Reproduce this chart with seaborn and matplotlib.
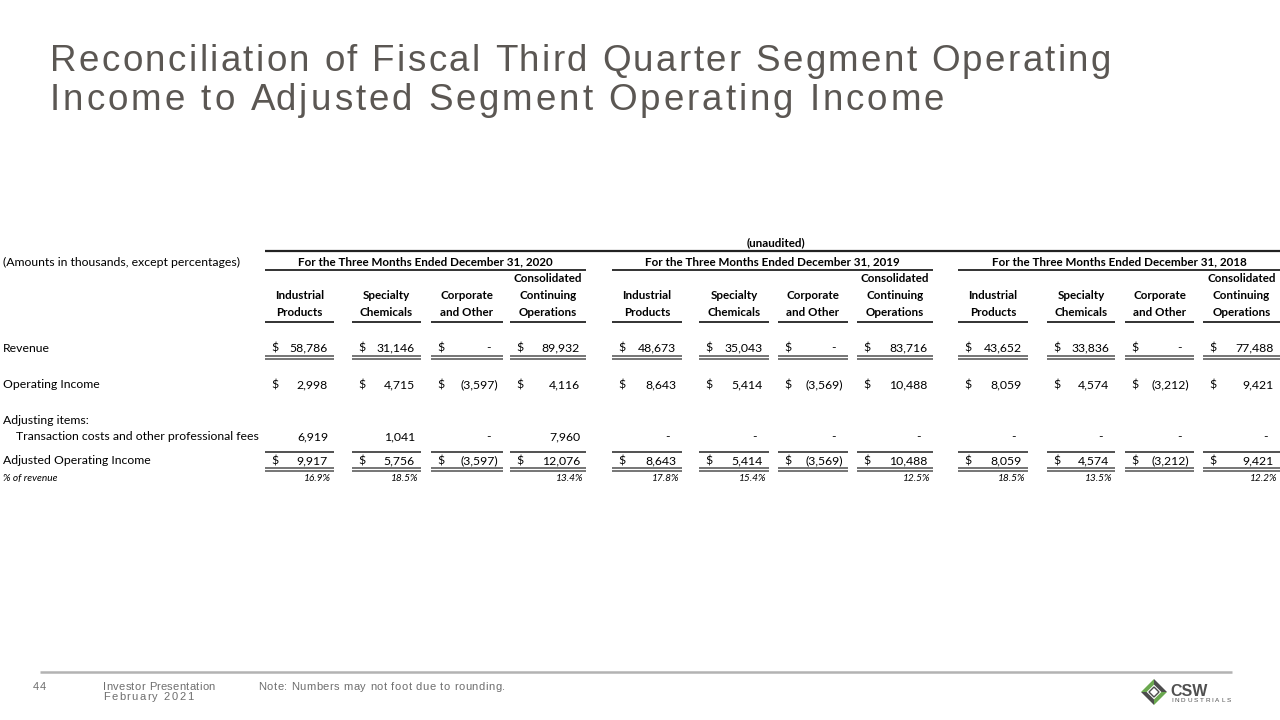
import matplotlib
matplotlib.use("Agg")
import matplotlib.pyplot as plt
from matplotlib.patches import Polygon
from matplotlib.font_manager import FontProperties
import seaborn as sns

sns.set_theme(style="white")
plt.rcParams['font.family'] = ['Lato', 'DejaVu Sans']

# ---------------- data ----------------
title_lines = ["Reconciliation of Fiscal Third Quarter Segment Operating",
               "Income to Adjusted Segment Operating Income"]
group_titles = ["For the Three Months Ended December 31, 2020",
                "For the Three Months Ended December 31, 2019",
                "For the Three Months Ended December 31, 2018"]
col_headers = [["", "Industrial", "Products"],
               ["", "Specialty", "Chemicals"],
               ["", "Corporate", "and Other"],
               ["Consolidated", "Continuing", "Operations"]]
revenue = [[58786, 31146, 0, 89932],
           [48673, 35043, 0, 83716],
           [43652, 33836, 0, 77488]]
operating_income = [[2998, 4715, -3597, 4116],
                    [8643, 5414, -3569, 10488],
                    [8059, 4574, -3212, 9421]]
transaction_costs = [[6919, 1041, 0, 7960],
                     [0, 0, 0, 0],
                     [0, 0, 0, 0]]
adjusted_income = [[9917, 5756, -3597, 12076],
                   [8643, 5414, -3569, 10488],
                   [8059, 4574, -3212, 9421]]
pct_revenue = [[16.9, 18.5, None, 13.4],
               [17.8, 15.4, None, 12.5],
               [18.5, 13.5, None, 12.2]]
row_labels = ["Revenue", "Operating Income", "Adjusting items:",
              "Transaction costs and other professional fees",
              "Adjusted Operating Income", "% of revenue"]
footer_page = "44"
footer_pres = ["Investor Presentation", "February 2021"]
footer_note = "Note: Numbers may not foot due to rounding."

# ---------------- layout (pixels) ----------------
col_spans = [[(265, 334), (352, 421), (431, 503), (510, 586)],
             [(612, 682), (699, 769), (778, 848), (857, 933)],
             [(958, 1028), (1047, 1115), (1125, 1194), (1203, 1280)]]
group_spans = [(265, 586), (612, 933), (958, 1280)]

fig = plt.figure(figsize=(12.8, 7.2), dpi=100)
ax = fig.add_axes([0, 0, 1, 1])
ax.set_xlim(0, 1280)
ax.set_ylim(720, 0)
ax.axis("off")
sns.despine(ax=ax, left=True, bottom=True)
renderer = fig.canvas.get_renderer()

TXT = "#000000"
FS = 8.8
FSB = 8.4
FF = ["Liberation Sans", "DejaVu Sans"]


def spaced_text(x, y, s, size, color, family=FF, weight="normal",
                spacing=None, target=None, va="baseline"):
    fp = FontProperties(family=family, size=size, weight=weight)

    def w(t):
        return renderer.get_text_width_height_descent(t, fp, ismath=False)[0]
    wl = w("l")
    pos = [0.0] + [w(s[:i] + "l") - wl for i in range(1, len(s))]
    if target is not None:
        spacing = (target - w(s)) / (len(s) - 1)
    for i, ch in enumerate(s):
        if ch != " ":
            ax.text(x + pos[i] + i * spacing, y, ch, fontproperties=fp,
                    color=color, ha="left", va=va)
    return spacing


# title
spaced_text(50, 71, title_lines[0], 26.5, "#5b5753", target=1061)
spaced_text(50, 110, title_lines[1], 26.5, "#5b5753", target=894)

# header area
ax.text(776, 243, "(unaudited)", fontsize=FSB, fontweight="bold", color=TXT,
        ha="center", va="center")
ax.hlines(251, 265, 1280, color="#222222", lw=1.6)
ax.text(3, 262, "(Amounts in thousands, except percentages)", fontsize=FS,
        color=TXT, ha="left", va="center")
for g, (a, b) in enumerate(group_spans):
    ax.text((a + b) / 2, 262, group_titles[g], fontsize=FSB, fontweight="bold",
            color=TXT, ha="center", va="center")
    ax.hlines(269.5, a, b, color="#222222", lw=1.3)
    for c, (l, r) in enumerate(col_spans[g]):
        for k, y in enumerate([278, 295.5, 312.5]):
            if col_headers[c][k]:
                ax.text((l + r) / 2, y, col_headers[c][k], fontsize=FSB,
                        fontweight="bold", color=TXT, ha="center", va="center")
        ax.hlines(322, l, r, color="#222222", lw=1.3)


def fmt(v):
    if v == 0:
        return "-"
    if v < 0:
        return "({:,})".format(-v)
    return "{:,}".format(v)


def put_row(values, y, dollar):
    for g in range(3):
        for c, (l, r) in enumerate(col_spans[g]):
            v = values[g][c]
            if dollar:
                ax.text(l + 6, y, "$", fontsize=FS, color=TXT, ha="left", va="center")
            if v == 0:
                ax.text(r - 12, y, "-", fontsize=FS, color=TXT, ha="right", va="center")
            elif v < 0:
                ax.text(r - 5, y, fmt(v), fontsize=FS, color=TXT, ha="right", va="center")
            else:
                ax.text(r - 6, y, fmt(v), fontsize=FS, color=TXT, ha="right", va="center")


def double_line(y):
    for g in range(3):
        for (l, r) in col_spans[g]:
            ax.hlines(y - 1.2, l, r, color="#505050", lw=1.1)
            ax.hlines(y + 1.2, l, r, color="#505050", lw=1.1)


# rows
ax.text(3, 348, row_labels[0], fontsize=FS, color=TXT, ha="left", va="center")
put_row(revenue, 348, True)
double_line(357.5)

ax.text(3, 385, row_labels[1], fontsize=FS, color=TXT, ha="left", va="center")
put_row(operating_income, 385, True)

ax.text(3, 420, row_labels[2], fontsize=FS, color=TXT, ha="left", va="center")
ax.text(16, 436.5, row_labels[3], fontsize=FS, color=TXT, ha="left", va="center")
put_row(transaction_costs, 436.5, False)
for g in range(3):
    for (l, r) in col_spans[g]:
        ax.hlines(452, l, r, color="#222222", lw=1.1)

ax.text(3, 461, row_labels[4], fontsize=FS, color=TXT, ha="left", va="center")
put_row(adjusted_income, 461, True)
double_line(469.5)

ax.text(3, 479, row_labels[5], fontsize=7.3, style="italic", color=TXT,
        ha="left", va="center")
for g in range(3):
    for c, (l, r) in enumerate(col_spans[g]):
        p = pct_revenue[g][c]
        if p is not None:
            ax.text(r - 3, 478.5, "{:.1f}%".format(p), fontsize=7.3, style="italic",
                    color=TXT, ha="right", va="center")

# footer
ax.hlines(671.5, 40, 1232, color="#b3b3b3", lw=1.8)
FC = "#6e6e6e"
spaced_text(258, 689.5, footer_note, 8.0, FC, target=247)
spaced_text(33, 689.5, footer_page, 8.0, FC, spacing=0.8)
spaced_text(103, 689.5, footer_pres[0], 8.0, FC, target=112)
spaced_text(103, 700.5, footer_pres[1], 8.0, FC, target=90)

# logo
cx, cy, s, t = 1154, 692, 13, 4
green, gray = "#6aa84f", "#4d4d4d"
N, E, S, W = (cx, cy - s), (cx + s, cy), (cx, cy + s), (cx - s, cy)
Ni, Ei, Si, Wi = (cx, cy - s + t * 1.4), (cx + s - t * 1.4, cy), (cx, cy + s - t * 1.4), (cx - s + t * 1.4, cy)
ax.add_patch(Polygon([W, N, Ni, Wi], closed=True, color=green, lw=0))
ax.add_patch(Polygon([N, E, Ei, Ni], closed=True, color=gray, lw=0))
ax.add_patch(Polygon([E, S, Si, Ei], closed=True, color=green, lw=0))
ax.add_patch(Polygon([S, W, Wi, Si], closed=True, color=gray, lw=0))
r2 = 5
ax.add_patch(Polygon([(cx - r2, cy), (cx, cy - r2), (cx + r2, cy), (cx, cy + r2)],
                     closed=True, fill=False, edgecolor=gray, lw=1.0))
ax.text(1170, 696.5, "CSW", fontsize=11.5, fontweight="bold", color="#505050",
        family=FF, ha="left", va="baseline")
spaced_text(1171, 702.5, "INDUSTRIALS", 4.6, "#505050", target=60)

fig.savefig("out.png", dpi=100, facecolor="white")
